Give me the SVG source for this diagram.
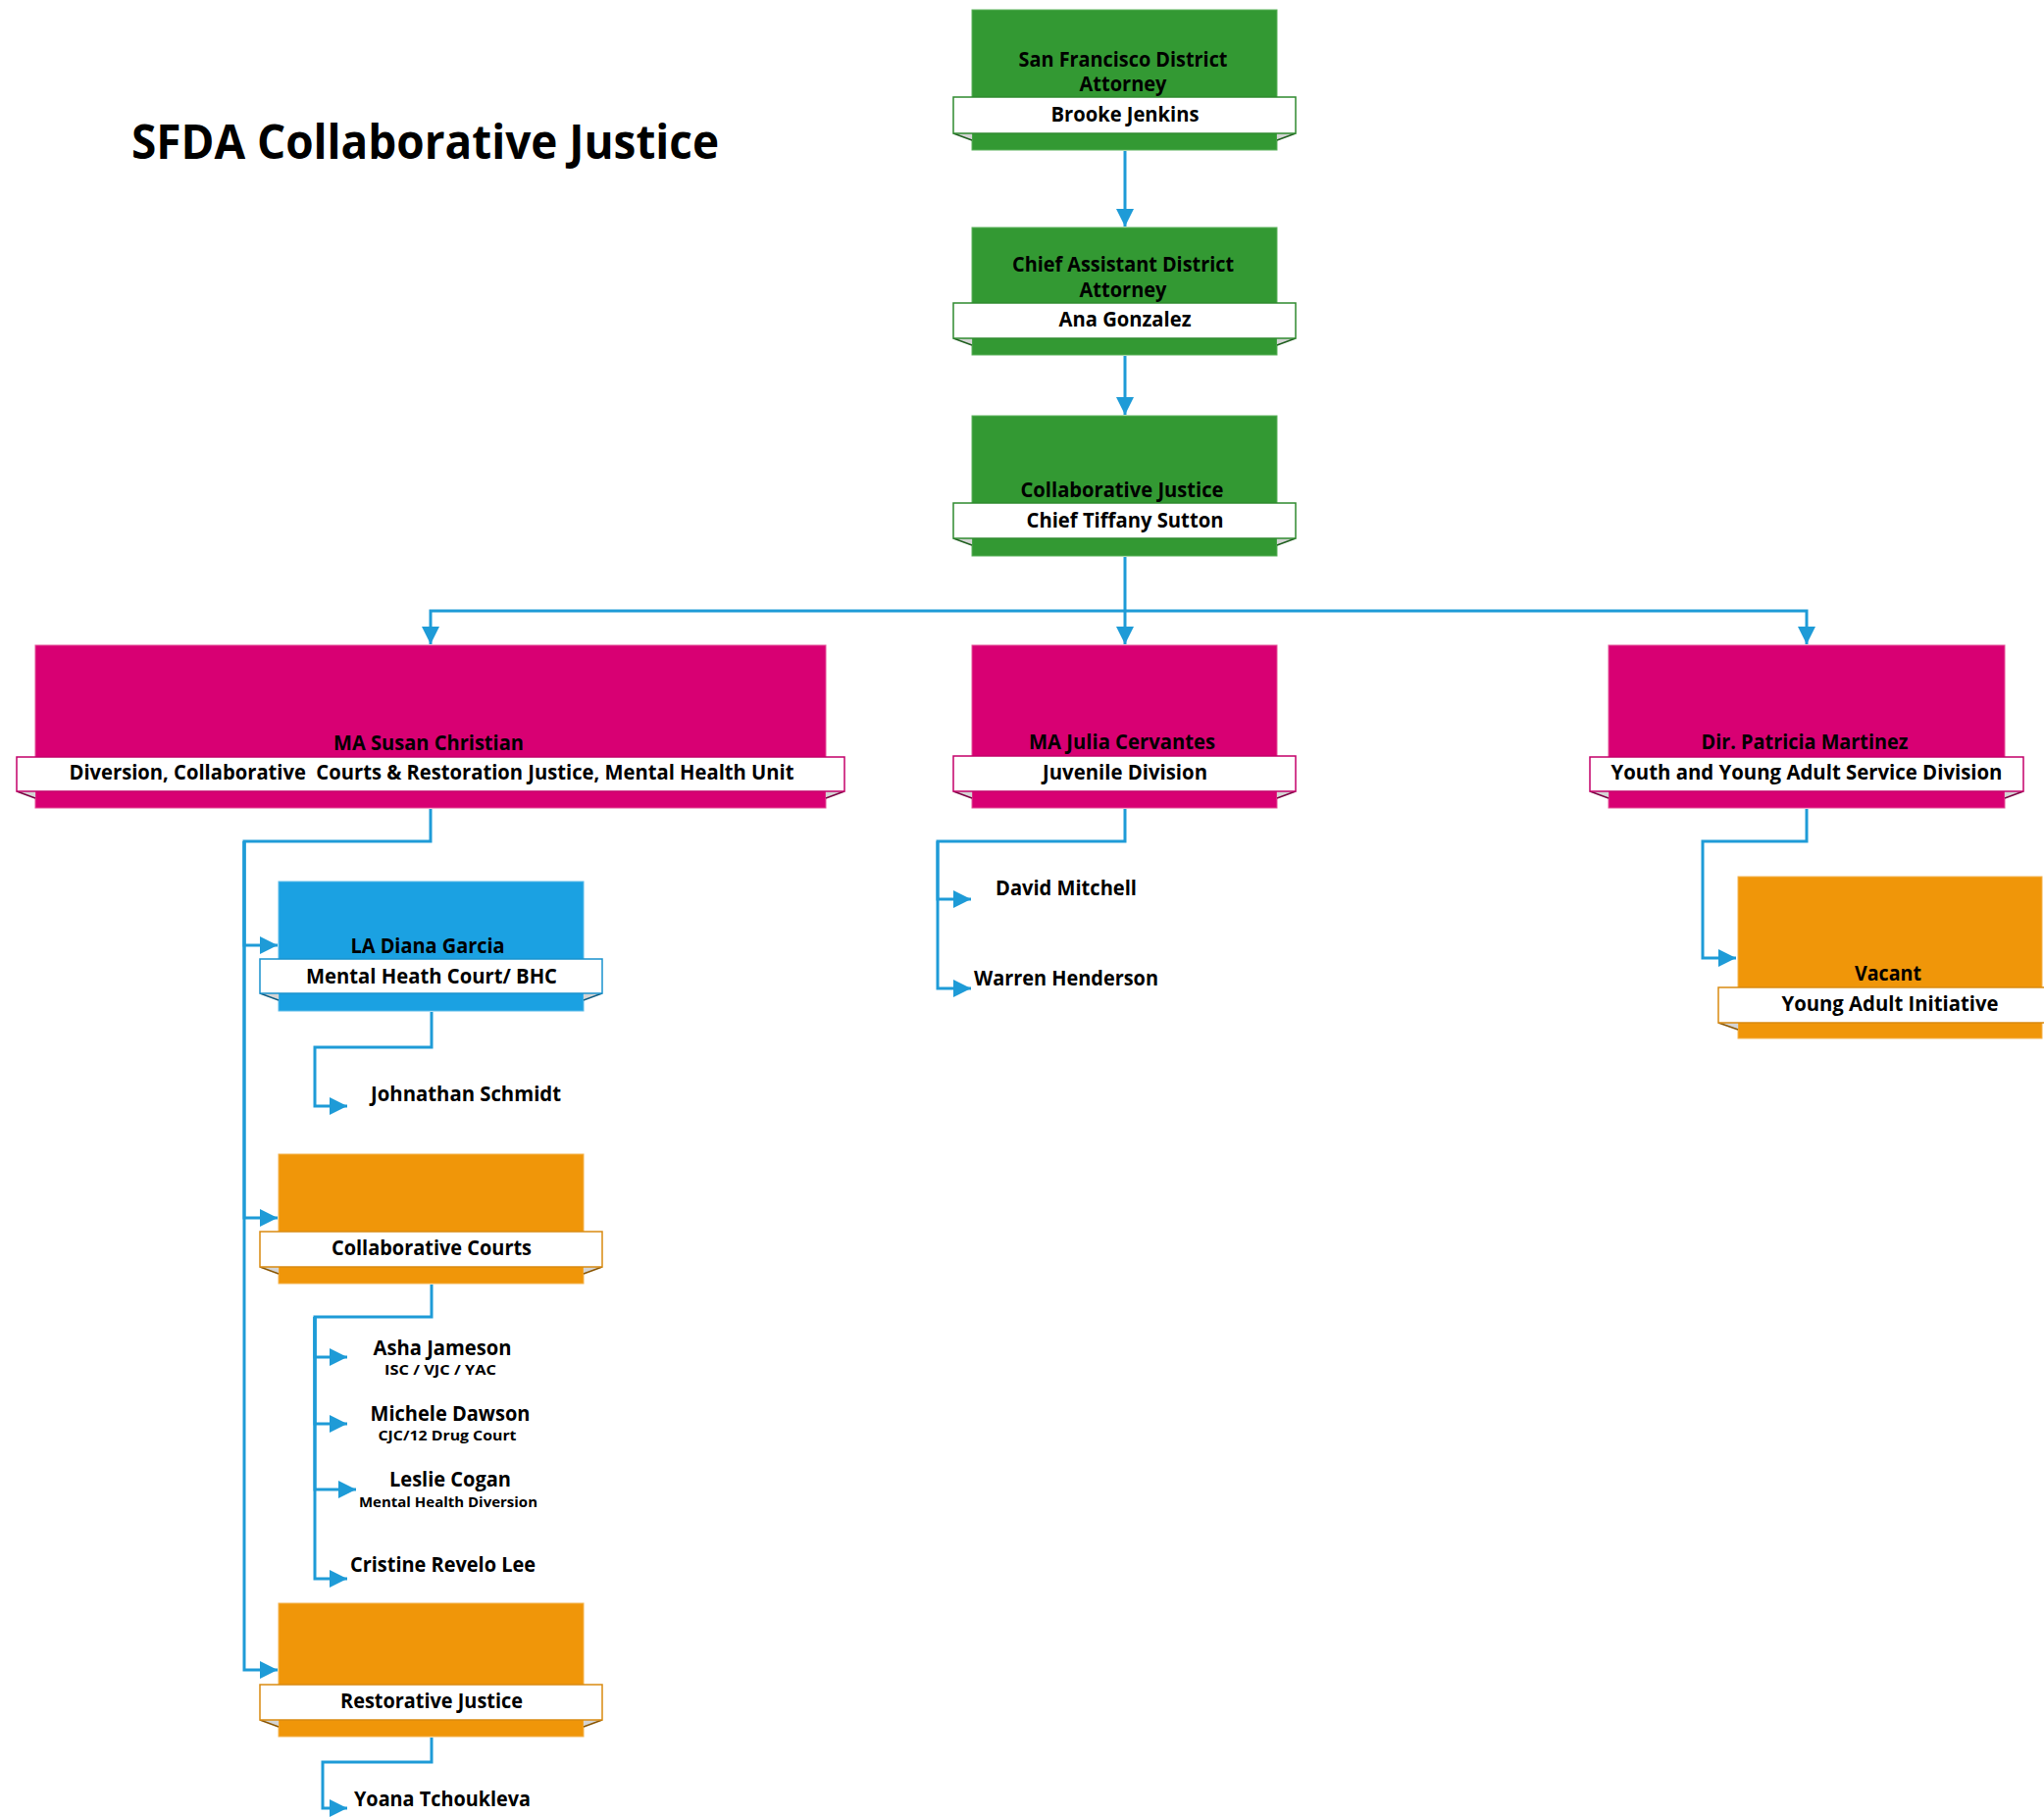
<svg xmlns="http://www.w3.org/2000/svg" width="2084" height="1853" viewBox="0 0 2084 1853">
<style>
  .t{font-family:"Open Sans","Noto Sans","Liberation Sans",sans-serif;font-weight:700;font-size:21px;fill:#000}
  .s{font-family:"Open Sans","Noto Sans","Liberation Sans",sans-serif;font-weight:700;font-size:15px;fill:#000}
  .c{text-anchor:middle}
  .title{font-family:"Open Sans","Noto Sans","Liberation Sans",sans-serif;font-weight:700;font-size:48px;fill:#000}
  .green{fill:#339933;stroke:#5fb35f;stroke-width:1}
  .mag{fill:#d80073;stroke:#e45599;stroke-width:1}
  .blue{fill:#1ba1e2;stroke:#5cbbe9;stroke-width:1}
  .orange{fill:#f09609;stroke:#f4b34f;stroke-width:1}
  .bg{fill:#fff;stroke:#2f8a2f;stroke-width:1.5}
  .bm{fill:#fff;stroke:#c4006a;stroke-width:1.5}
  .bb{fill:#fff;stroke:#1a93ce;stroke-width:1.5}
  .bo{fill:#fff;stroke:#d98a10;stroke-width:1.5}
  .fold{fill:#d4d4d4}
  .fg{stroke:#1f5f1f;stroke-width:1.5;fill:none}
  .fm{stroke:#7a0042;stroke-width:1.5;fill:none}
  .fb{stroke:#0e5c82;stroke-width:1.5;fill:none}
  .fo{stroke:#8a5500;stroke-width:1.5;fill:none}
  .con{fill:none;stroke:#1e9bd7;stroke-width:3;marker-end:url(#arr)}
</style>
<defs>
  <marker id="arr" markerUnits="userSpaceOnUse" viewBox="0 0 18 18" refX="18" refY="9" markerWidth="18" markerHeight="18" orient="auto">
    <path d="M0,0 L18,9 L0,18 z" fill="#1e9bd7"/>
  </marker>
</defs>
<rect width="2084" height="1853" fill="#fff"/>

<text class="title" x="134" y="162" textLength="599" lengthAdjust="spacingAndGlyphs">SFDA Collaborative Justice</text>

<g id="connectors">
  <path class="con" d="M1147,154 V231"/>
  <path class="con" d="M1147,363 V423"/>
  <path class="con" d="M1147,568 V657"/>
  <path class="con" d="M1147,623 H439 V657"/>
  <path class="con" d="M1147,623 H1842 V657"/>
  <path class="con" d="M439,825 V858 H249 V964 H283"/>
  <path class="con" d="M249,858 V1242 H283"/>
  <path class="con" d="M249,858 V1703 H283"/>
  <path class="con" d="M440,1032 V1068 H321 V1128 H354"/>
  <path class="con" d="M440,1310 V1343 H321 V1384 H354"/>
  <path class="con" d="M321,1343 V1452 H354"/>
  <path class="con" d="M321,1343 V1519 H363"/>
  <path class="con" d="M321,1343 V1610 H354"/>
  <path class="con" d="M440,1772 V1797 H329 V1844 H354"/>
  <path class="con" d="M1147,825 V858 H956 V917 H990"/>
  <path class="con" d="M956,858 V1008 H990"/>
  <path class="con" d="M1842,825 V858 H1736 V977 H1770"/>
</g>

<g id="n-da">
  <rect class="green" x="991" y="10" width="311" height="143"/>
  <polygon class="fold" points="972,136 991,136 991,143"/><line class="fg" x1="972" y1="136" x2="991" y2="143"/>
  <polygon class="fold" points="1321,136 1302,136 1302,143"/><line class="fg" x1="1321" y1="136" x2="1302" y2="143"/>
  <rect class="bg" x="972" y="99" width="349" height="37"/>
  <text class="t c" x="1145" y="68" textLength="213" lengthAdjust="spacingAndGlyphs">San Francisco District</text>
  <text class="t c" x="1145" y="93" textLength="89" lengthAdjust="spacingAndGlyphs">Attorney</text>
  <text class="t c" x="1147" y="124" textLength="151" lengthAdjust="spacingAndGlyphs">Brooke Jenkins</text>
</g>

<g id="n-cada">
  <rect class="green" x="991" y="232" width="311" height="130"/>
  <polygon class="fold" points="972,345 991,345 991,352"/><line class="fg" x1="972" y1="345" x2="991" y2="352"/>
  <polygon class="fold" points="1321,345 1302,345 1302,352"/><line class="fg" x1="1321" y1="345" x2="1302" y2="352"/>
  <rect class="bg" x="972" y="309" width="349" height="36"/>
  <text class="t c" x="1145" y="277" textLength="226" lengthAdjust="spacingAndGlyphs">Chief Assistant District</text>
  <text class="t c" x="1145" y="303" textLength="89" lengthAdjust="spacingAndGlyphs">Attorney</text>
  <text class="t c" x="1147" y="333" textLength="135" lengthAdjust="spacingAndGlyphs">Ana Gonzalez</text>
</g>

<g id="n-cj">
  <rect class="green" x="991" y="424" width="311" height="143"/>
  <polygon class="fold" points="972,549 991,549 991,556"/><line class="fg" x1="972" y1="549" x2="991" y2="556"/>
  <polygon class="fold" points="1321,549 1302,549 1302,556"/><line class="fg" x1="1321" y1="549" x2="1302" y2="556"/>
  <rect class="bg" x="972" y="513" width="349" height="36"/>
  <text class="t c" x="1144" y="507" textLength="207" lengthAdjust="spacingAndGlyphs">Collaborative Justice</text>
  <text class="t c" x="1147" y="538" textLength="201" lengthAdjust="spacingAndGlyphs">Chief Tiffany Sutton</text>
</g>

<g id="n-susan">
  <rect class="mag" x="36" y="658" width="806" height="166"/>
  <polygon class="fold" points="17,807 36,807 36,814"/><line class="fm" x1="17" y1="807" x2="36" y2="814"/>
  <polygon class="fold" points="861,807 842,807 842,814"/><line class="fm" x1="861" y1="807" x2="842" y2="814"/>
  <rect class="bm" x="17" y="772" width="844" height="35"/>
  <text class="t c" x="437" y="765" textLength="194" lengthAdjust="spacingAndGlyphs">MA Susan Christian</text>
  <text class="t c" x="440" y="795" textLength="739" lengthAdjust="spacingAndGlyphs" xml:space="preserve">Diversion, Collaborative  Courts &amp; Restoration Justice, Mental Health Unit</text>
</g>

<g id="n-julia">
  <rect class="mag" x="991" y="658" width="311" height="166"/>
  <polygon class="fold" points="972,807 991,807 991,814"/><line class="fm" x1="972" y1="807" x2="991" y2="814"/>
  <polygon class="fold" points="1321,807 1302,807 1302,814"/><line class="fm" x1="1321" y1="807" x2="1302" y2="814"/>
  <rect class="bm" x="972" y="771" width="349" height="36"/>
  <text class="t c" x="1144" y="764" textLength="190" lengthAdjust="spacingAndGlyphs">MA Julia Cervantes</text>
  <text class="t c" x="1147" y="795" textLength="168" lengthAdjust="spacingAndGlyphs">Juvenile Division</text>
</g>

<g id="n-patricia">
  <rect class="mag" x="1640" y="658" width="404" height="166"/>
  <polygon class="fold" points="1621,807 1640,807 1640,814"/><line class="fm" x1="1621" y1="807" x2="1640" y2="814"/>
  <polygon class="fold" points="2063,807 2044,807 2044,814"/><line class="fm" x1="2063" y1="807" x2="2044" y2="814"/>
  <rect class="bm" x="1621" y="772" width="442" height="35"/>
  <text class="t c" x="1840" y="764" textLength="211" lengthAdjust="spacingAndGlyphs">Dir. Patricia Martinez</text>
  <text class="t c" x="1842" y="795" textLength="399" lengthAdjust="spacingAndGlyphs">Youth and Young Adult Service Division</text>
</g>

<g id="n-vacant">
  <rect class="orange" x="1772" y="894" width="310" height="165"/>
  <polygon class="fold" points="1752,1043 1772,1043 1772,1050"/><line class="fo" x1="1752" y1="1043" x2="1772" y2="1050"/>
  <rect class="bo" x="1752" y="1007" width="350" height="36"/>
  <text class="t c" x="1925" y="1000" textLength="68" lengthAdjust="spacingAndGlyphs">Vacant</text>
  <text class="t c" x="1927" y="1031" textLength="221" lengthAdjust="spacingAndGlyphs">Young Adult Initiative</text>
</g>

<g id="n-david"><text class="t" x="1015" y="913" textLength="144" lengthAdjust="spacingAndGlyphs">David Mitchell</text></g>
<g id="n-warren"><text class="t" x="993" y="1005" textLength="188" lengthAdjust="spacingAndGlyphs">Warren Henderson</text></g>

<g id="n-diana">
  <rect class="blue" x="284" y="899" width="311" height="132"/>
  <polygon class="fold" points="265,1013 284,1013 284,1020"/><line class="fb" x1="265" y1="1013" x2="284" y2="1020"/>
  <polygon class="fold" points="614,1013 595,1013 595,1020"/><line class="fb" x1="614" y1="1013" x2="595" y2="1020"/>
  <rect class="bb" x="265" y="978" width="349" height="35"/>
  <text class="t c" x="436" y="972" textLength="157" lengthAdjust="spacingAndGlyphs">LA Diana Garcia</text>
  <text class="t c" x="440" y="1003" textLength="256" lengthAdjust="spacingAndGlyphs">Mental Heath Court/ BHC</text>
</g>

<g id="n-johnathan"><text class="t" x="378" y="1123" textLength="194" lengthAdjust="spacingAndGlyphs">Johnathan Schmidt</text></g>

<g id="n-collab-courts">
  <rect class="orange" x="284" y="1177" width="311" height="132"/>
  <polygon class="fold" points="265,1292 284,1292 284,1299"/><line class="fo" x1="265" y1="1292" x2="284" y2="1299"/>
  <polygon class="fold" points="614,1292 595,1292 595,1299"/><line class="fo" x1="614" y1="1292" x2="595" y2="1299"/>
  <rect class="bo" x="265" y="1256" width="349" height="36"/>
  <text class="t c" x="440" y="1280" textLength="204" lengthAdjust="spacingAndGlyphs">Collaborative Courts</text>
</g>

<g id="n-asha">
  <text class="t c" x="451" y="1382" textLength="141" lengthAdjust="spacingAndGlyphs">Asha Jameson</text>
  <text class="s c" x="449" y="1402" textLength="114" lengthAdjust="spacingAndGlyphs">ISC / VJC / YAC</text>
</g>
<g id="n-michele">
  <text class="t c" x="459" y="1449" textLength="163" lengthAdjust="spacingAndGlyphs">Michele Dawson</text>
  <text class="s c" x="456" y="1469" textLength="141" lengthAdjust="spacingAndGlyphs">CJC/12 Drug Court</text>
</g>
<g id="n-leslie">
  <text class="t c" x="459" y="1516" textLength="124" lengthAdjust="spacingAndGlyphs">Leslie Cogan</text>
  <text class="s c" x="457" y="1537" textLength="182" lengthAdjust="spacingAndGlyphs">Mental Health Diversion</text>
</g>
<g id="n-cristine"><text class="t" x="357" y="1603" textLength="189" lengthAdjust="spacingAndGlyphs">Cristine Revelo Lee</text></g>

<g id="n-restorative">
  <rect class="orange" x="284" y="1635" width="311" height="136"/>
  <polygon class="fold" points="265,1754 284,1754 284,1761"/><line class="fo" x1="265" y1="1754" x2="284" y2="1761"/>
  <polygon class="fold" points="614,1754 595,1754 595,1761"/><line class="fo" x1="614" y1="1754" x2="595" y2="1761"/>
  <rect class="bo" x="265" y="1718" width="349" height="36"/>
  <text class="t c" x="440" y="1742" textLength="186" lengthAdjust="spacingAndGlyphs">Restorative Justice</text>
</g>

<g id="n-yoana"><text class="t" x="361" y="1842" textLength="180" lengthAdjust="spacingAndGlyphs">Yoana Tchoukleva</text></g>
</svg>
